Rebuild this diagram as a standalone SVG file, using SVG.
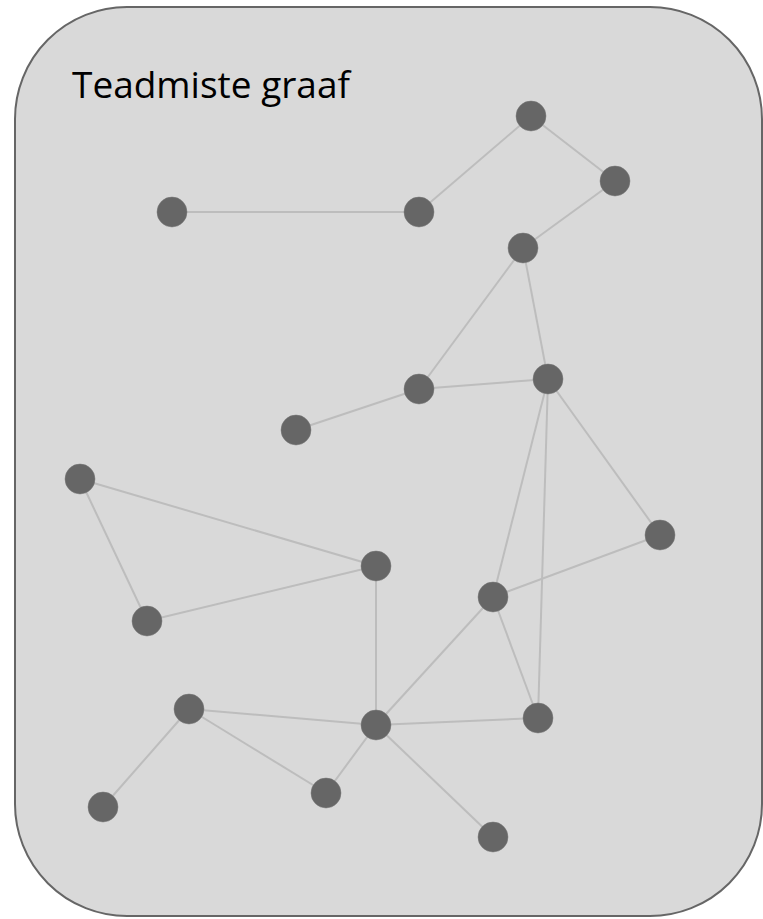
<svg xmlns="http://www.w3.org/2000/svg" width="763" height="919" viewBox="0 0 763 919">
<style>
.e{stroke:#bdbdbd;stroke-width:2;fill:none}
.n{fill:#666666;stroke:#777;stroke-width:0.5}
.t{font-family:"Open Sans","Noto Sans",sans-serif;font-size:37px;fill:#000}
</style>
<rect x="15" y="7" width="747" height="909" rx="112" ry="112" fill="#d9d9d9" stroke="#666" stroke-width="2"/>
<text class="t" x="72" y="98">Teadmiste graaf</text>
<g id="edges">
<line class="e" x1="172" y1="212" x2="419" y2="212"/>
<line class="e" x1="419" y1="212" x2="531" y2="116"/>
<line class="e" x1="531" y1="116" x2="615" y2="181"/>
<line class="e" x1="615" y1="181" x2="523" y2="248"/>
<line class="e" x1="523" y1="248" x2="419" y2="389"/>
<line class="e" x1="523" y1="248" x2="548" y2="379"/>
<line class="e" x1="419" y1="389" x2="548" y2="379"/>
<line class="e" x1="419" y1="389" x2="296" y2="430"/>
<line class="e" x1="548" y1="379" x2="493" y2="597"/>
<line class="e" x1="548" y1="379" x2="538" y2="718"/>
<line class="e" x1="548" y1="379" x2="660" y2="535"/>
<line class="e" x1="660" y1="535" x2="493" y2="597"/>
<line class="e" x1="493" y1="597" x2="538" y2="718"/>
<line class="e" x1="493" y1="597" x2="376" y2="725"/>
<line class="e" x1="80" y1="479" x2="376" y2="566"/>
<line class="e" x1="80" y1="479" x2="147" y2="621"/>
<line class="e" x1="147" y1="621" x2="376" y2="566"/>
<line class="e" x1="376" y1="566" x2="376" y2="725"/>
<line class="e" x1="189" y1="709" x2="376" y2="725"/>
<line class="e" x1="189" y1="709" x2="103" y2="807"/>
<line class="e" x1="189" y1="709" x2="326" y2="793"/>
<line class="e" x1="326" y1="793" x2="376" y2="725"/>
<line class="e" x1="376" y1="725" x2="538" y2="718"/>
<line class="e" x1="376" y1="725" x2="493" y2="837"/>
</g>
<g id="n1"><circle class="n" cx="172" cy="212" r="15"/></g>
<g id="n2"><circle class="n" cx="419" cy="212" r="15"/></g>
<g id="n3"><circle class="n" cx="531" cy="116" r="15"/></g>
<g id="n4"><circle class="n" cx="615" cy="181" r="15"/></g>
<g id="n5"><circle class="n" cx="523" cy="248" r="15"/></g>
<g id="n6"><circle class="n" cx="419" cy="389" r="15"/></g>
<g id="n7"><circle class="n" cx="548" cy="379" r="15"/></g>
<g id="n8"><circle class="n" cx="296" cy="430" r="15"/></g>
<g id="n9"><circle class="n" cx="80" cy="479" r="15"/></g>
<g id="n10"><circle class="n" cx="376" cy="566" r="15"/></g>
<g id="n11"><circle class="n" cx="147" cy="621" r="15"/></g>
<g id="n12"><circle class="n" cx="660" cy="535" r="15"/></g>
<g id="n13"><circle class="n" cx="493" cy="597" r="15"/></g>
<g id="n14"><circle class="n" cx="189" cy="709" r="15"/></g>
<g id="n15"><circle class="n" cx="376" cy="725" r="15"/></g>
<g id="n16"><circle class="n" cx="538" cy="718" r="15"/></g>
<g id="n17"><circle class="n" cx="103" cy="807" r="15"/></g>
<g id="n18"><circle class="n" cx="326" cy="793" r="15"/></g>
<g id="n19"><circle class="n" cx="493" cy="837" r="15"/></g>
</svg>
